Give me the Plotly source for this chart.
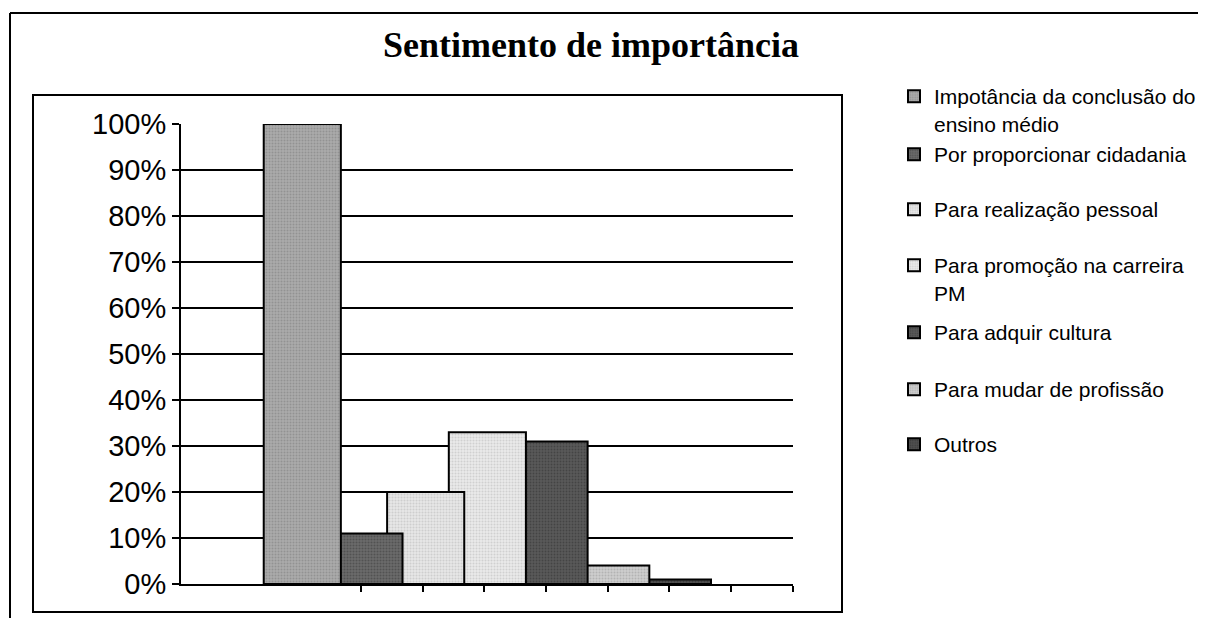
import plotly.graph_objects as go

# ---- data ----
series_names = [
    "Impotância da conclusão do<br>ensino médio",
    "Por proporcionar cidadania",
    "Para realização pessoal",
    "Para promoção na carreira<br>PM",
    "Para adquir cultura",
    "Para mudar de profissão",
    "Outros",
]
values = [1.00, 0.11, 0.20, 0.33, 0.31, 0.04, 0.01]
y_tick_vals = [0, 0.1, 0.2, 0.3, 0.4, 0.5, 0.6, 0.7, 0.8, 0.9, 1.0]
y_tick_text = ["0%", "10%", "20%", "30%", "40%", "50%", "60%", "70%", "80%", "90%", "100%"]

# ---- styles ----
fills = ["#ababab", "#6a6a6a", "#e6e6e6", "#e9e9e9", "#5a5a5a", "#cdcdcd", "#505050"]
dots = ["#7a7a7a", "#3a3a3a", "#b5b5b5", "#b8b8b8", "#2e2e2e", "#999999", "#2a2a2a"]

OFF = 8  # page body margin in the browser
W, H = 1206 - 2 * OFF, 626 - 2 * OFF  # figure fits the window without scrollbars
L, R, T, B = 181 - OFF, 793 - OFF, 124 - OFF, 584 - OFF


def px_x(p):
    return (p - OFF - L) / (R - L)


def px_y(p):
    return (B - (p - OFF)) / (B - T)


legend_first_line_y = [97, 155, 210, 266, 333, 390, 445]

fig = go.Figure()
n = len(values)
# earlier series are drawn on top -> add in reverse order
for i in reversed(range(n)):
    fig.add_trace(go.Bar(
        x=[i], y=[values[i]], name=series_names[i], width=1.25,
        marker=dict(color=fills[i], line=dict(color="black", width=2),
                    pattern=dict(shape=".", fgcolor=dots[i], bgcolor=fills[i],
                                 size=3, solidity=0.35)),
        legend="legend" if i == 0 else f"legend{i+1}",
        hoverinfo="skip",
    ))

layout_legends = {}
for i in range(n):
    key = "legend" if i == 0 else f"legend{i+1}"
    layout_legends[key] = dict(
        x=px_x(894), y=px_y(legend_first_line_y[i] - 21),
        xanchor="left", yanchor="top", xref="paper", yref="paper",
        bgcolor="rgba(0,0,0,0)", borderwidth=0, valign="top",
        font=dict(family="Arial, Liberation Sans, sans-serif", size=21, color="black"),
        itemclick=False, itemdoubleclick=False,
    )

fig.update_layout(
    width=W, height=H, autosize=False,
    margin=dict(l=L, r=W - R, t=T, b=H - B, autoexpand=False),
    paper_bgcolor="white", plot_bgcolor="white",
    barmode="overlay",
    showlegend=True,
    title=dict(text="<b>Sentimento de importância</b>",
               font=dict(family="Times New Roman, Liberation Serif, serif", size=36, color="black"),
               x=(591 - OFF) / W, xanchor="center", xref="container",
               y=1 - (44 - OFF) / H, yanchor="middle", yref="container"),
    xaxis=dict(range=[-1.966, 7.954], showgrid=False, zeroline=False,
               showline=True, linecolor="black", linewidth=2,
               ticks="outside", ticklen=6, tickwidth=2, tickcolor="black",
               tickmode="array", tickvals=[k + 0.95 for k in range(8)],
               showticklabels=False, fixedrange=True),
    yaxis=dict(range=[0, 1], showgrid=True, gridcolor="black", gridwidth=2,
               zeroline=False, showline=True, linecolor="black", linewidth=2,
               ticks="outside", ticklen=7, tickwidth=2, tickcolor="black",
               tickmode="array", tickvals=y_tick_vals, ticktext=y_tick_text,
               tickfont=dict(family="Arial, Liberation Sans, sans-serif", size=29, color="black"),
               fixedrange=True),
    shapes=[
        # outer chart border (only top and left edges are inside the picture)
        dict(type="line", xref="paper", yref="paper",
             x0=px_x(10), x1=px_x(1206), y0=px_y(13), y1=px_y(13),
             line=dict(color="black", width=2), layer="below"),
        dict(type="line", xref="paper", yref="paper",
             x0=px_x(10), x1=px_x(10), y0=px_y(13), y1=px_y(640),
             line=dict(color="black", width=2), layer="below"),
        # inner chart-area frame
        dict(type="rect", xref="paper", yref="paper",
             x0=px_x(33), x1=px_x(842), y0=px_y(95), y1=px_y(612),
             line=dict(color="black", width=2), fillcolor="rgba(0,0,0,0)", layer="below"),
    ],
    **layout_legends,
)

fig.write_html("out.html")
